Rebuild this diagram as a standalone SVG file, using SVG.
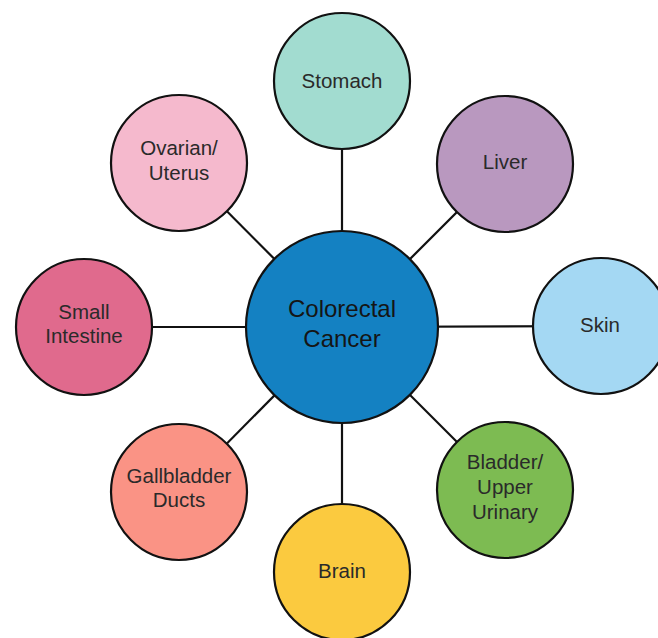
<svg xmlns="http://www.w3.org/2000/svg" width="658" height="638" viewBox="0 0 658 638">
<style>
  .node circle { stroke: #111; stroke-width: 2.2; }
  .node text { font-family: "Liberation Sans", Arial, sans-serif; font-size: 20.5px; fill: #2a2a2a; text-anchor: middle; }
  .center text { font-size: 24px; fill: #151515; }
  .conn line { stroke: #111; stroke-width: 2.2; }
</style>
<rect width="658" height="638" fill="#ffffff"/>
<g id="connectors" class="conn">
  <line x1="342" y1="327" x2="342" y2="81"/>
  <line x1="342" y1="327" x2="505" y2="164"/>
  <line x1="342" y1="327" x2="601" y2="326"/>
  <line x1="342" y1="327" x2="505" y2="490"/>
  <line x1="342" y1="327" x2="342" y2="572"/>
  <line x1="342" y1="327" x2="179" y2="492"/>
  <line x1="342" y1="327" x2="84" y2="327"/>
  <line x1="342" y1="327" x2="179" y2="163"/>
</g>
<g id="stomach" class="node">
  <circle cx="342" cy="81" r="68" fill="#a2dcd0"/>
  <text x="342" y="88">Stomach</text>
</g>
<g id="liver" class="node">
  <circle cx="505" cy="164" r="68" fill="#b998bf"/>
  <text x="505" y="169">Liver</text>
</g>
<g id="skin" class="node">
  <circle cx="601" cy="326" r="68" fill="#a4d8f3"/>
  <text x="600" y="332">Skin</text>
</g>
<g id="bladder" class="node">
  <circle cx="505" cy="490" r="68" fill="#7dbb52"/>
  <text x="505" y="469">Bladder/</text>
  <text x="505" y="494">Upper</text>
  <text x="505" y="519">Urinary</text>
</g>
<g id="brain" class="node">
  <circle cx="342" cy="572" r="68" fill="#fbca3f"/>
  <text x="342" y="578">Brain</text>
</g>
<g id="gallbladder" class="node">
  <circle cx="179" cy="492" r="68" fill="#fa9385"/>
  <text x="179" y="483">Gallbladder</text>
  <text x="179" y="507">Ducts</text>
</g>
<g id="small-intestine" class="node">
  <circle cx="84" cy="327" r="68" fill="#e06a8d"/>
  <text x="84" y="319">Small</text>
  <text x="84" y="343">Intestine</text>
</g>
<g id="ovarian" class="node">
  <circle cx="179" cy="163" r="68" fill="#f5b9cd"/>
  <text x="179" y="155">Ovarian/</text>
  <text x="179" y="180">Uterus</text>
</g>
<g id="colorectal" class="node center">
  <circle cx="342" cy="327" r="96" fill="#1481c2"/>
  <text x="342" y="317">Colorectal</text>
  <text x="342" y="347">Cancer</text>
</g>
</svg>
